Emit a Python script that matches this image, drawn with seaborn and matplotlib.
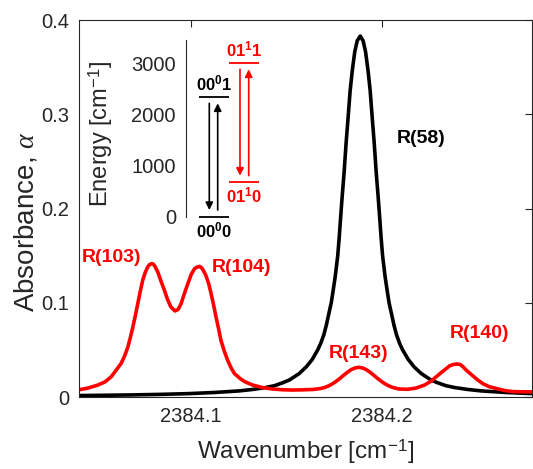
import matplotlib
matplotlib.use('Agg')
import matplotlib.pyplot as plt
import pandas as pd
import seaborn as sns

# ---- data ----
# R(58) line, black
black_wn = [2384.0400, 2384.0683, 2384.0840, 2384.0986, 2384.1122, 2384.1253, 2384.1321,
            2384.1389, 2384.1436, 2384.1478, 2384.1514, 2384.1567, 2384.1603, 2384.1635,
            2384.1663, 2384.1679, 2384.1695, 2384.1708, 2384.1722, 2384.1734, 2384.1744,
            2384.1755, 2384.1768, 2384.1776, 2384.1783, 2384.1791, 2384.1802, 2384.1812,
            2384.1821, 2384.1833, 2384.1844, 2384.1857, 2384.1870, 2384.1886, 2384.1901,
            2384.1914, 2384.1927, 2384.1938, 2384.1950, 2384.1959, 2384.1969, 2384.1980,
            2384.1988, 2384.1995, 2384.2003, 2384.2016, 2384.2027, 2384.2037, 2384.2049,
            2384.2063, 2384.2076, 2384.2092, 2384.2108, 2384.2137, 2384.2168, 2384.2205,
            2384.2257, 2384.2293, 2384.2335, 2384.2382, 2384.2450, 2384.2518, 2384.2649,
            2384.2785, 2384.2850]
black_abs = [0.0015, 0.0022, 0.0028, 0.0036, 0.0048, 0.0065, 0.0080,
             0.0100, 0.0120, 0.0150, 0.0180, 0.0250, 0.0320, 0.0400,
             0.0500, 0.0570, 0.0660, 0.0760, 0.0890, 0.1000, 0.1130,
             0.1280, 0.1500, 0.1700, 0.1900, 0.2120, 0.2400, 0.2700,
             0.2930, 0.3250, 0.3460, 0.3660, 0.3780, 0.3830, 0.3780,
             0.3660, 0.3460, 0.3250, 0.2930, 0.2700, 0.2400, 0.2120,
             0.1900, 0.1700, 0.1500, 0.1280, 0.1130, 0.1000, 0.0890,
             0.0760, 0.0660, 0.0570, 0.0500, 0.0400, 0.0320, 0.0250,
             0.0180, 0.0150, 0.0120, 0.0100, 0.0080, 0.0065, 0.0048,
             0.0036, 0.0033]

# hot-band lines R(103), R(104), R(143), R(140), red
red_wn = [2384.0400, 2384.0459, 2384.0511, 2384.0548, 2384.0581, 2384.0605, 2384.0633,
          2384.0652, 2384.0668, 2384.0681, 2384.0694, 2384.0707, 2384.0720, 2384.0733,
          2384.0746, 2384.0759, 2384.0772, 2384.0782, 2384.0793, 2384.0801, 2384.0809,
          2384.0825, 2384.0840, 2384.0860, 2384.0877, 2384.0894, 2384.0915, 2384.0932,
          2384.0947, 2384.0963, 2384.0982, 2384.1000, 2384.1017, 2384.1030, 2384.1043,
          2384.1052, 2384.1060, 2384.1077, 2384.1092, 2384.1104, 2384.1118, 2384.1130,
          2384.1144, 2384.1156, 2384.1173, 2384.1191, 2384.1209, 2384.1226, 2384.1254,
          2384.1278, 2384.1322, 2384.1374, 2384.1426, 2384.1479, 2384.1531, 2384.1583,
          2384.1638, 2384.1678, 2384.1698, 2384.1718, 2384.1738, 2384.1758, 2384.1778,
          2384.1798, 2384.1818, 2384.1838, 2384.1858, 2384.1878, 2384.1898, 2384.1918,
          2384.1938, 2384.1958, 2384.1978, 2384.1998, 2384.2018, 2384.2038, 2384.2058,
          2384.2090, 2384.2136, 2384.2179, 2384.2223, 2384.2258, 2384.2293, 2384.2323,
          2384.2354, 2384.2373, 2384.2391, 2384.2410, 2384.2425, 2384.2441, 2384.2470,
          2384.2502, 2384.2530, 2384.2561, 2384.2596, 2384.2640, 2384.2681, 2384.2734,
          2384.2786, 2384.2850]
red_abs = [0.0072, 0.0095, 0.0127, 0.0160, 0.0215, 0.0280, 0.0357,
           0.0440, 0.0530, 0.0630, 0.0740, 0.0860, 0.0990, 0.1120,
           0.1240, 0.1320, 0.1380, 0.1405, 0.1415, 0.1410, 0.1390,
           0.1326, 0.1240, 0.1130, 0.1030, 0.0955, 0.0913, 0.0930,
           0.0990, 0.1090, 0.1200, 0.1300, 0.1360, 0.1378, 0.1386,
           0.1376, 0.1356, 0.1290, 0.1200, 0.1100, 0.0970, 0.0850,
           0.0720, 0.0600, 0.0490, 0.0390, 0.0310, 0.0250, 0.0200,
           0.0165, 0.0127, 0.0100, 0.0085, 0.0077, 0.0074, 0.0076,
           0.0080, 0.0090, 0.0100, 0.0116, 0.0137, 0.0164, 0.0195,
           0.0229, 0.0262, 0.0290, 0.0308, 0.0315, 0.0308, 0.0290,
           0.0262, 0.0229, 0.0195, 0.0164, 0.0137, 0.0116, 0.0100,
           0.0085, 0.0082, 0.0095, 0.0127, 0.0170, 0.0230, 0.0280,
           0.0330, 0.0345, 0.0350, 0.0345, 0.0320, 0.0286, 0.0235,
           0.0180, 0.0140, 0.0110, 0.0092, 0.0070, 0.0058, 0.0055,
           0.0055, 0.0055]

x_ticks = [2384.1, 2384.2]
x_tick_labels = ['2384.1', '2384.2']
y_ticks = [0, 0.1, 0.2, 0.3, 0.4]
y_tick_labels = ['0', '0.1', '0.2', '0.3', '0.4']

# energy level diagram (inset)
level_names = [r'$\mathbf{00^{0}0}$', r'$\mathbf{00^{0}1}$',
               r'$\mathbf{01^{1}0}$', r'$\mathbf{01^{1}1}$']
level_energy = [0, 2347, 672, 3012]
level_colors = ['black', 'black', 'red', 'red']
transitions = [(1, 0), (0, 1), (3, 2), (2, 3)]   # (from, to)
e_ticks = [0, 1000, 2000, 3000]

df_black = pd.DataFrame({'wn': black_wn, 'abs': black_abs})
df_red = pd.DataFrame({'wn': red_wn, 'abs': red_abs})

# ---- style ----
sns.set_theme(style='white')
plt.rcParams['font.family'] = ['Liberation Sans', 'DejaVu Sans']
plt.rcParams['mathtext.fontset'] = 'custom'
plt.rcParams['mathtext.rm'] = 'Liberation Sans'
plt.rcParams['mathtext.it'] = 'Liberation Serif:italic'
plt.rcParams['mathtext.bf'] = 'Liberation Sans:bold'
gray = '#262626'

fig = plt.figure(figsize=(5.33, 4.69), dpi=100)
ax = fig.add_axes([0.1482, 0.1535, 0.8499, 0.8038])

sns.lineplot(data=df_black, x='wn', y='abs', color='black', linewidth=2.6, ax=ax)
sns.lineplot(data=df_red, x='wn', y='abs', color='red', linewidth=2.6, ax=ax)

ax.set_xlim(2384.0412, 2384.2786)
ax.set_ylim(0, 0.4)
ax.set_xticks(x_ticks)
ax.set_xticklabels(x_tick_labels)
ax.set_yticks(y_ticks)
ax.set_yticklabels(y_tick_labels)
ax.tick_params(direction='in', top=True, right=True, length=5, width=0.8,
               colors=gray, labelsize=14.5, pad=7)
for s in ax.spines.values():
    s.set_color(gray)
    s.set_linewidth(0.8)

ax.set_xlabel('Wavenumber [cm$^{-1}$]', fontsize=17.5, color=gray, labelpad=8)
ax.set_ylabel(r'Absorbance, $\alpha$', fontsize=20, color=gray)
ax.yaxis.set_label_coords(-0.088, 0.465)

# line labels
ax.text(2384.2075, 0.274, 'R(58)', color='black', fontsize=14, fontweight='bold',
        ha='left', va='center')
ax.text(2384.1878, 0.0466, 'R(143)', color='red', fontsize=14, fontweight='bold',
        ha='center', va='center')
ax.text(2384.2513, 0.0674, 'R(140)', color='red', fontsize=14, fontweight='bold',
        ha='center', va='center')
ax.text(2384.0583, 0.1478, 'R(103)', color='red', fontsize=14, fontweight='bold',
        ha='center', va='center')
ax.text(2384.1265, 0.1372, 'R(104)', color='red', fontsize=14, fontweight='bold',
        ha='center', va='center')

# ---- inset: energy levels ----
ins = fig.add_axes([0.3484, 0.5380, 0.1501, 0.3768])
ins.set_facecolor('none')
ins.set_xlim(0, 80)
ins.set_ylim(0, 3456)
ins.set_xticks([])
ins.set_yticks(e_ticks)
ins.set_yticklabels([str(e) for e in e_ticks])
ins.tick_params(axis='y', direction='in', length=4, width=0.8, colors=gray,
                labelsize=14.5, pad=7)
for side in ['top', 'right', 'bottom']:
    ins.spines[side].set_visible(False)
ins.spines['left'].set_color(gray)
ins.spines['left'].set_linewidth(0.8)
ins.set_ylabel('Energy [cm$^{-1}$]', fontsize=17, color=gray)
ins.yaxis.set_label_coords(-0.88, 0.47)

span = {'black': (13.3, 43.3), 'red': (43.3, 73.3)}
for name, e, c in zip(level_names, level_energy, level_colors):
    x0, x1 = span[c]
    ins.hlines(e, x0, x1, color=c, linewidth=1.3, clip_on=False)
    upper = e > 2000
    ins.text((x0 + x1) / 2, e + (60 if upper else -65), name, color=c,
             fontsize=12, ha='center', va='bottom' if upper else 'top',
             clip_on=False)

arrow_x = [23.6, 32.0, 54.3, 63.0]
gap = 130
for (i, j), xa in zip(transitions, arrow_x):
    c = level_colors[i]
    sgn = 1 if level_energy[j] > level_energy[i] else -1
    ins.annotate('', xy=(xa, level_energy[j] - sgn * gap),
                 xytext=(xa, level_energy[i] + sgn * gap),
                 arrowprops=dict(arrowstyle='-|>', color=c, lw=1.2,
                                 mutation_scale=11, shrinkA=0, shrinkB=0))

fig.savefig('out.png', dpi=100)
